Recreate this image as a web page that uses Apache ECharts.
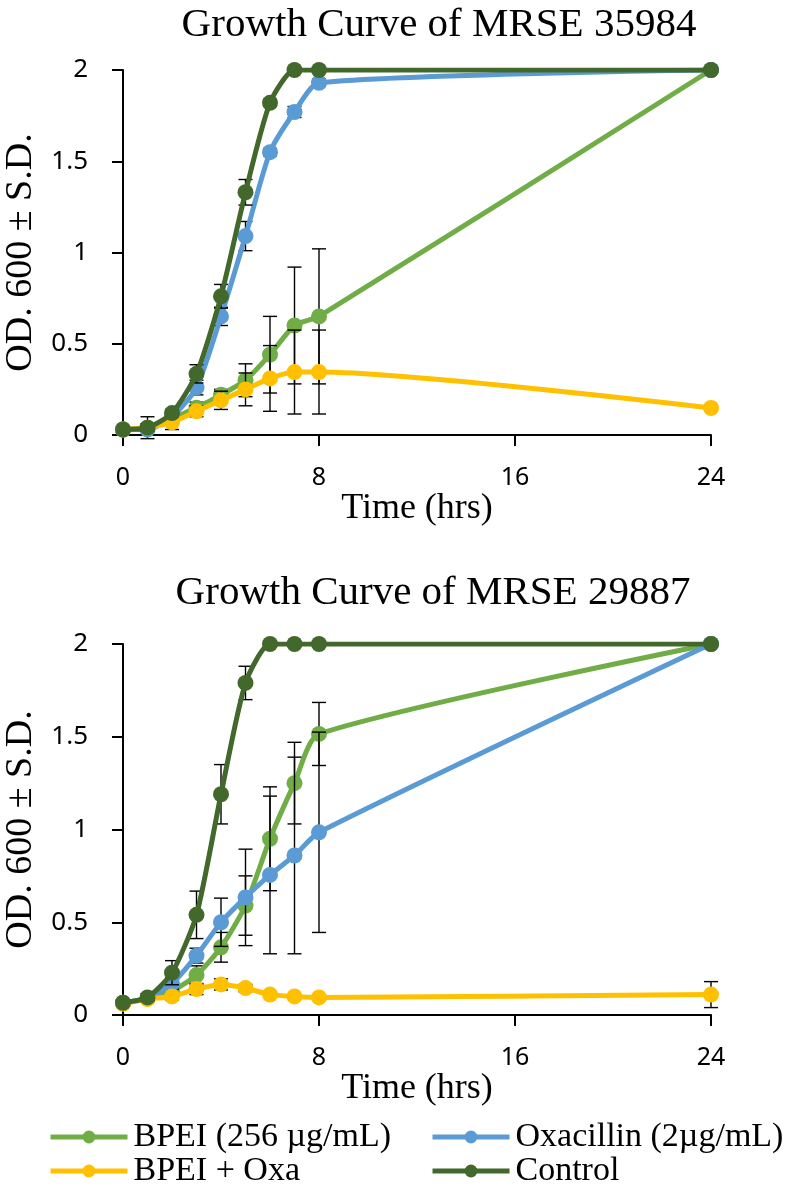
<!DOCTYPE html>
<html>
<head>
<meta charset="utf-8">
<title>Growth Curves of MRSE</title>
<script src="https://cdn.jsdelivr.net/npm/echarts@6.0.0/dist/echarts.min.js"></script>
<style>
    html, body {margin: 0; padding: 0; background: #fff;}
    #chart {width: 788px; height: 1189px;}
</style>
</head>
<body>
<div id="chart"></div>
<script>
// sampling times (hrs)
var hours = [0, 1, 2, 3, 4, 5, 6, 7, 8, 24];
var xTicks = [0, 8, 16, 24];

var seriesNames = ['BPEI (256 µg/mL)', 'Oxacillin (2µg/mL)', 'BPEI + Oxa', 'Control'];
var seriesColors = ['#70AD47', '#5B9BD5', '#FFC000', '#43682B'];

// MRSE 35984 - OD600 means
var bpei35984    = [0.03, 0.04, 0.09, 0.15, 0.22, 0.30, 0.44, 0.60, 0.65, 2.00];
var oxa35984     = [0.03, 0.03, 0.10, 0.26, 0.65, 1.09, 1.55, 1.77, 1.93, 2.00];
var combo35984   = [0.03, 0.04, 0.07, 0.13, 0.19, 0.25, 0.31, 0.345, 0.345, 0.148];
var control35984 = [0.03, 0.04, 0.12, 0.335, 0.76, 1.33, 1.82, 2.00, 2.00, 2.00];
// MRSE 35984 - S.D.
var bpei35984Sd    = [0.01, 0.06, 0.02, 0.03, 0.03, 0.09, 0.21, 0.32, 0.37, 0];
var oxa35984Sd     = [0.01, 0.01, 0.02, 0.04, 0.05, 0.08, 0.02, 0.03, 0.02, 0];
var combo35984Sd   = [0.01, 0.02, 0.04, 0.03, 0.05, 0.09, 0.18, 0.23, 0.23, 0.01];
var control35984Sd = [0.01, 0.02, 0.02, 0.05, 0.065, 0.07, 0.02, 0, 0, 0];

// MRSE 29887 - OD600 means
var bpei29887    = [0.066, 0.09, 0.13, 0.215, 0.365, 0.59, 0.95, 1.25, 1.515, 2.00];
var oxa29887     = [0.066, 0.09, 0.17, 0.32, 0.50, 0.634, 0.755, 0.86, 0.985, 2.00];
var combo29887   = [0.06, 0.086, 0.10, 0.14, 0.165, 0.145, 0.11, 0.10, 0.095, 0.11];
var control29887 = [0.066, 0.095, 0.228, 0.54, 1.19, 1.79, 2.00, 2.00, 2.00, 2.00];
// MRSE 29887 - S.D.
var bpei29887Sd    = [0.01, 0.01, 0.02, 0.05, 0.08, 0.16, 0.28, 0.22, 0.17, 0];
var oxa29887Sd     = [0.01, 0.01, 0.03, 0.04, 0.13, 0.26, 0.425, 0.53, 0.54, 0];
var combo29887Sd   = [0.005, 0.01, 0.02, 0.03, 0.03, 0.02, 0.01, 0.01, 0.01, 0.07];
var control29887Sd = [0.01, 0.02, 0.065, 0.128, 0.16, 0.09, 0, 0, 0, 0];

var serif = 'Liberation Serif';
var sans = 'Noto Sans';

function pairs(vals){
    var arr = [];
    for (var i = 0; i < hours.length; i++) arr.push([hours[i], vals[i]]);
    return arr;
}

//误差线
function errorBars(idx, gridIdx, vals, sds){
    var data = [];
    for (var i = 0; i < hours.length; i++) {
        if (sds[i] > 0) data.push([hours[i], vals[i] - sds[i], vals[i] + sds[i]]);
    }
    return {
        type: 'custom',
        name: 'sd-' + gridIdx + '-' + idx,
        xAxisIndex: gridIdx,
        yAxisIndex: gridIdx,
        z: 2 + idx * 2,
        silent: true,
        encode: {x: 0, y: [1, 2]},
        data: data,
        renderItem: function(params, api){
            var lo = api.coord([api.value(0), api.value(1)]);
            var hi = api.coord([api.value(0), api.value(2)]);
            var half = 7;
            var st = {stroke: '#000', lineWidth: 1.4, fill: null};
            return {
                type: 'group',
                children: [
                    {type: 'line', shape: {x1: lo[0], y1: lo[1], x2: hi[0], y2: hi[1]}, style: st},
                    {type: 'line', shape: {x1: lo[0] - half, y1: lo[1], x2: lo[0] + half, y2: lo[1]}, style: st},
                    {type: 'line', shape: {x1: hi[0] - half, y1: hi[1], x2: hi[0] + half, y2: hi[1]}, style: st}
                ]
            };
        }
    };
}

function lineSeries(idx, gridIdx, vals){
    return {
        type: 'line',
        name: seriesNames[idx],
        xAxisIndex: gridIdx,
        yAxisIndex: gridIdx,
        z: 3 + idx * 2,
        data: pairs(vals),
        smooth: 0.22,
        symbol: 'circle',
        symbolSize: 16,
        showAllSymbol: true,
        lineStyle: {color: seriesColors[idx], width: 5},
        itemStyle: {color: seriesColors[idx]},
        emphasis: {disabled: true},
        animation: false
    };
}

function xAxisOf(gridIdx){
    return {
        type: 'value', gridIndex: gridIdx, min: 0, max: 24, interval: 8,
        name: 'Time (hrs)', nameLocation: 'middle', nameGap: 47,
        nameTextStyle: {fontFamily: serif, fontSize: 36, color: '#000'},
        axisLine: {show: true, onZero: false, lineStyle: {color: '#000', width: 2}},
        axisTick: {show: true, length: 11, lineStyle: {color: '#000', width: 2}},
        axisLabel: {fontFamily: sans, fontSize: 25, color: '#000', margin: 30,
            customValues: xTicks},
        splitLine: {show: false}
    };
}

function yAxisOf(gridIdx){
    return {
        type: 'value', gridIndex: gridIdx, min: 0, max: 2, interval: 0.5,
        name: 'OD. 600 ± S.D.', nameLocation: 'middle', nameGap: 76,
        nameTextStyle: {fontFamily: serif, fontSize: 38, color: '#000'},
        axisLine: {show: true, lineStyle: {color: '#000', width: 2}},
        axisTick: {show: true, length: 11, lineStyle: {color: '#000', width: 2}},
        axisLabel: {fontFamily: sans, fontSize: 26, color: '#000', margin: 35},
        splitLine: {show: false}
    };
}

var chart = echarts.init(document.getElementById('chart'), null, {renderer: 'canvas'});

var series = [];
var sets = [
    [bpei35984, oxa35984, combo35984, control35984],
    [bpei29887, oxa29887, combo29887, control29887]
];
var sdSets = [
    [bpei35984Sd, oxa35984Sd, combo35984Sd, control35984Sd],
    [bpei29887Sd, oxa29887Sd, combo29887Sd, control29887Sd]
];
for (var g = 0; g < 2; g++) {
    for (var k = 0; k < 4; k++) {
        series.push(errorBars(k, g, sets[g][k], sdSets[g][k]));
        series.push(lineSeries(k, g, sets[g][k]));
    }
}

var legendCommon = {
    orient: 'vertical', itemWidth: 77, itemHeight: 16, itemGap: 0,
    padding: 0, selectedMode: false,
    lineStyle: {width: 5},
    textStyle: {fontFamily: serif, fontSize: 34, color: '#000', padding: [0, 0, 0, 1]}
};

chart.setOption({
    animation: false,
    backgroundColor: '#fff',
    title: [
        {text: 'Growth Curve of MRSE 35984', left: 439, top: 5, textAlign: 'center', padding: 0,
            textStyle: {fontFamily: serif, fontSize: 41, fontWeight: 'normal', color: '#000'}},
        {text: 'Growth Curve of MRSE 29887', left: 433, top: 573, textAlign: 'center', padding: 0,
            textStyle: {fontFamily: serif, fontSize: 41, fontWeight: 'normal', color: '#000'}}
    ],
    legend: [
        Object.assign({left: 48, top: 1120, data: [seriesNames[0], seriesNames[2]]}, legendCommon),
        Object.assign({left: 430, top: 1120, data: [seriesNames[1], seriesNames[3]]}, legendCommon)
    ],
    grid: [
        {left: 123, top: 70, width: 588, height: 365, containLabel: false, outerBoundsMode: 'none'},
        {left: 123, top: 644, width: 588, height: 371, containLabel: false, outerBoundsMode: 'none'}
    ],
    xAxis: [xAxisOf(0), xAxisOf(1)],
    yAxis: [yAxisOf(0), yAxisOf(1)],
    series: series
});
</script>
</body>
</html>
